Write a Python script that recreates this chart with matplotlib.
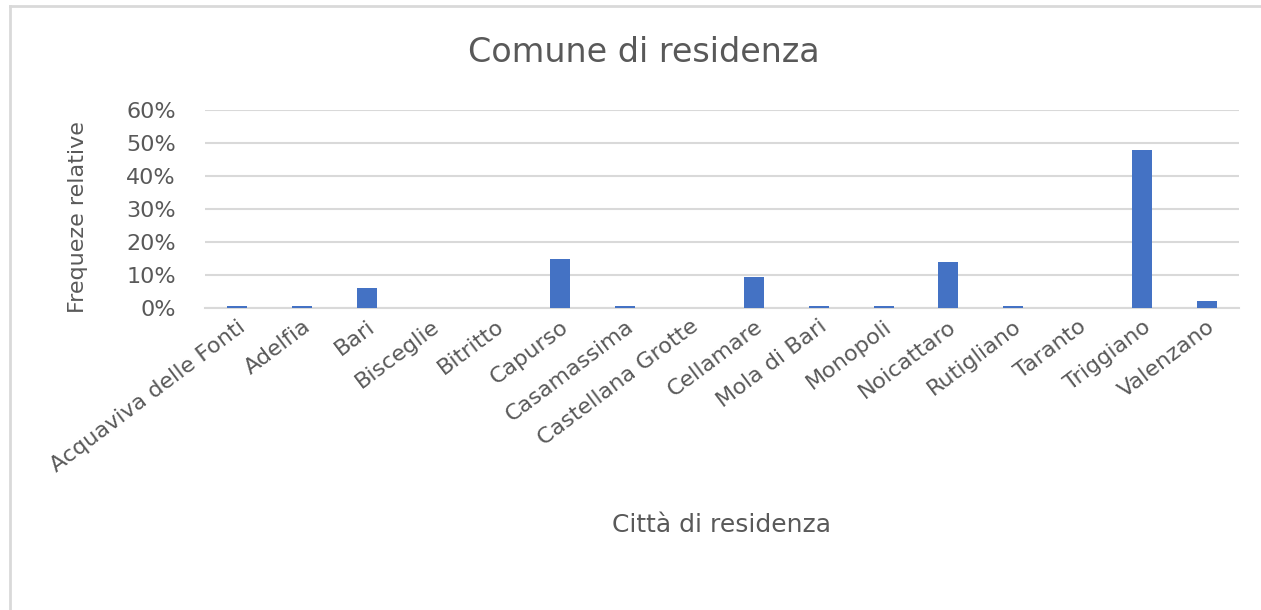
import matplotlib
matplotlib.use("Agg")
from matplotlib import pyplot as plt
from matplotlib.ticker import PercentFormatter, MultipleLocator
from matplotlib.lines import Line2D
import numpy as np

comuni = ['Acquaviva delle Fonti', 'Adelfia', 'Bari', 'Bisceglie', 'Bitritto',
          'Capurso', 'Casamassima', 'Castellana Grotte', 'Cellamare',
          'Mola di Bari', 'Monopoli', 'Noicattaro', 'Rutigliano', 'Taranto',
          'Triggiano', 'Valenzano']
frequenze = [0.7, 0.7, 6.2, 0.0, 0.0, 14.8, 0.7, 0.0, 9.5,
             0.7, 0.7, 13.8, 0.7, 0.0, 47.9, 2.1]

plt.rcParams['font.family'] = ['DejaVu Sans']
grey_txt = '#595959'
grid_c = '#d9d9d9'

fig = plt.figure(figsize=(12.61, 6.10), dpi=100)
ax = fig.add_axes([205/1261, 1 - 308/610, (1239 - 205)/1261, (308 - 110)/610])

x = np.arange(len(comuni))
ax.bar(x, frequenze, width=0.31, color='#4472c4', zorder=3)

ax.set_xlim(-0.5, len(comuni) - 0.5)
ax.set_ylim(0, 60)
ax.yaxis.set_major_locator(MultipleLocator(10))
ax.yaxis.set_major_formatter(PercentFormatter(decimals=0))
ax.grid(axis='y', color=grid_c, linewidth=1.5, zorder=0)
for s in ['top', 'right', 'left']:
    ax.spines[s].set_visible(False)
ax.spines['bottom'].set_color(grid_c)
ax.spines['bottom'].set_linewidth(1.5)
ax.tick_params(length=0, colors=grey_txt, labelsize=16)
ax.tick_params(axis='y', pad=21)
ax.set_xticks(x)
ax.set_xticklabels(comuni, rotation=37, ha='right', rotation_mode='anchor')
ax.tick_params(axis='x', pad=6)

fig.text(644/1261, 1 - 52/610, 'Comune di residenza', ha='center', va='center',
         fontsize=24, color=grey_txt)
fig.text(722/1261, 1 - 525/610, 'Città di residenza', ha='center', va='center',
         fontsize=18, color=grey_txt)
fig.text(78/1261, 1 - 217/610, 'Frequeze relative', ha='center', va='center',
         rotation=90, fontsize=16, color=grey_txt)

# chart frame
fig.add_artist(Line2D([10/1261, 1], [1 - 6/610, 1 - 6/610], color=grid_c, linewidth=2))
fig.add_artist(Line2D([10/1261, 10/1261], [0, 1 - 6/610], color=grid_c, linewidth=2))

plt.savefig("out.png", dpi=100)
